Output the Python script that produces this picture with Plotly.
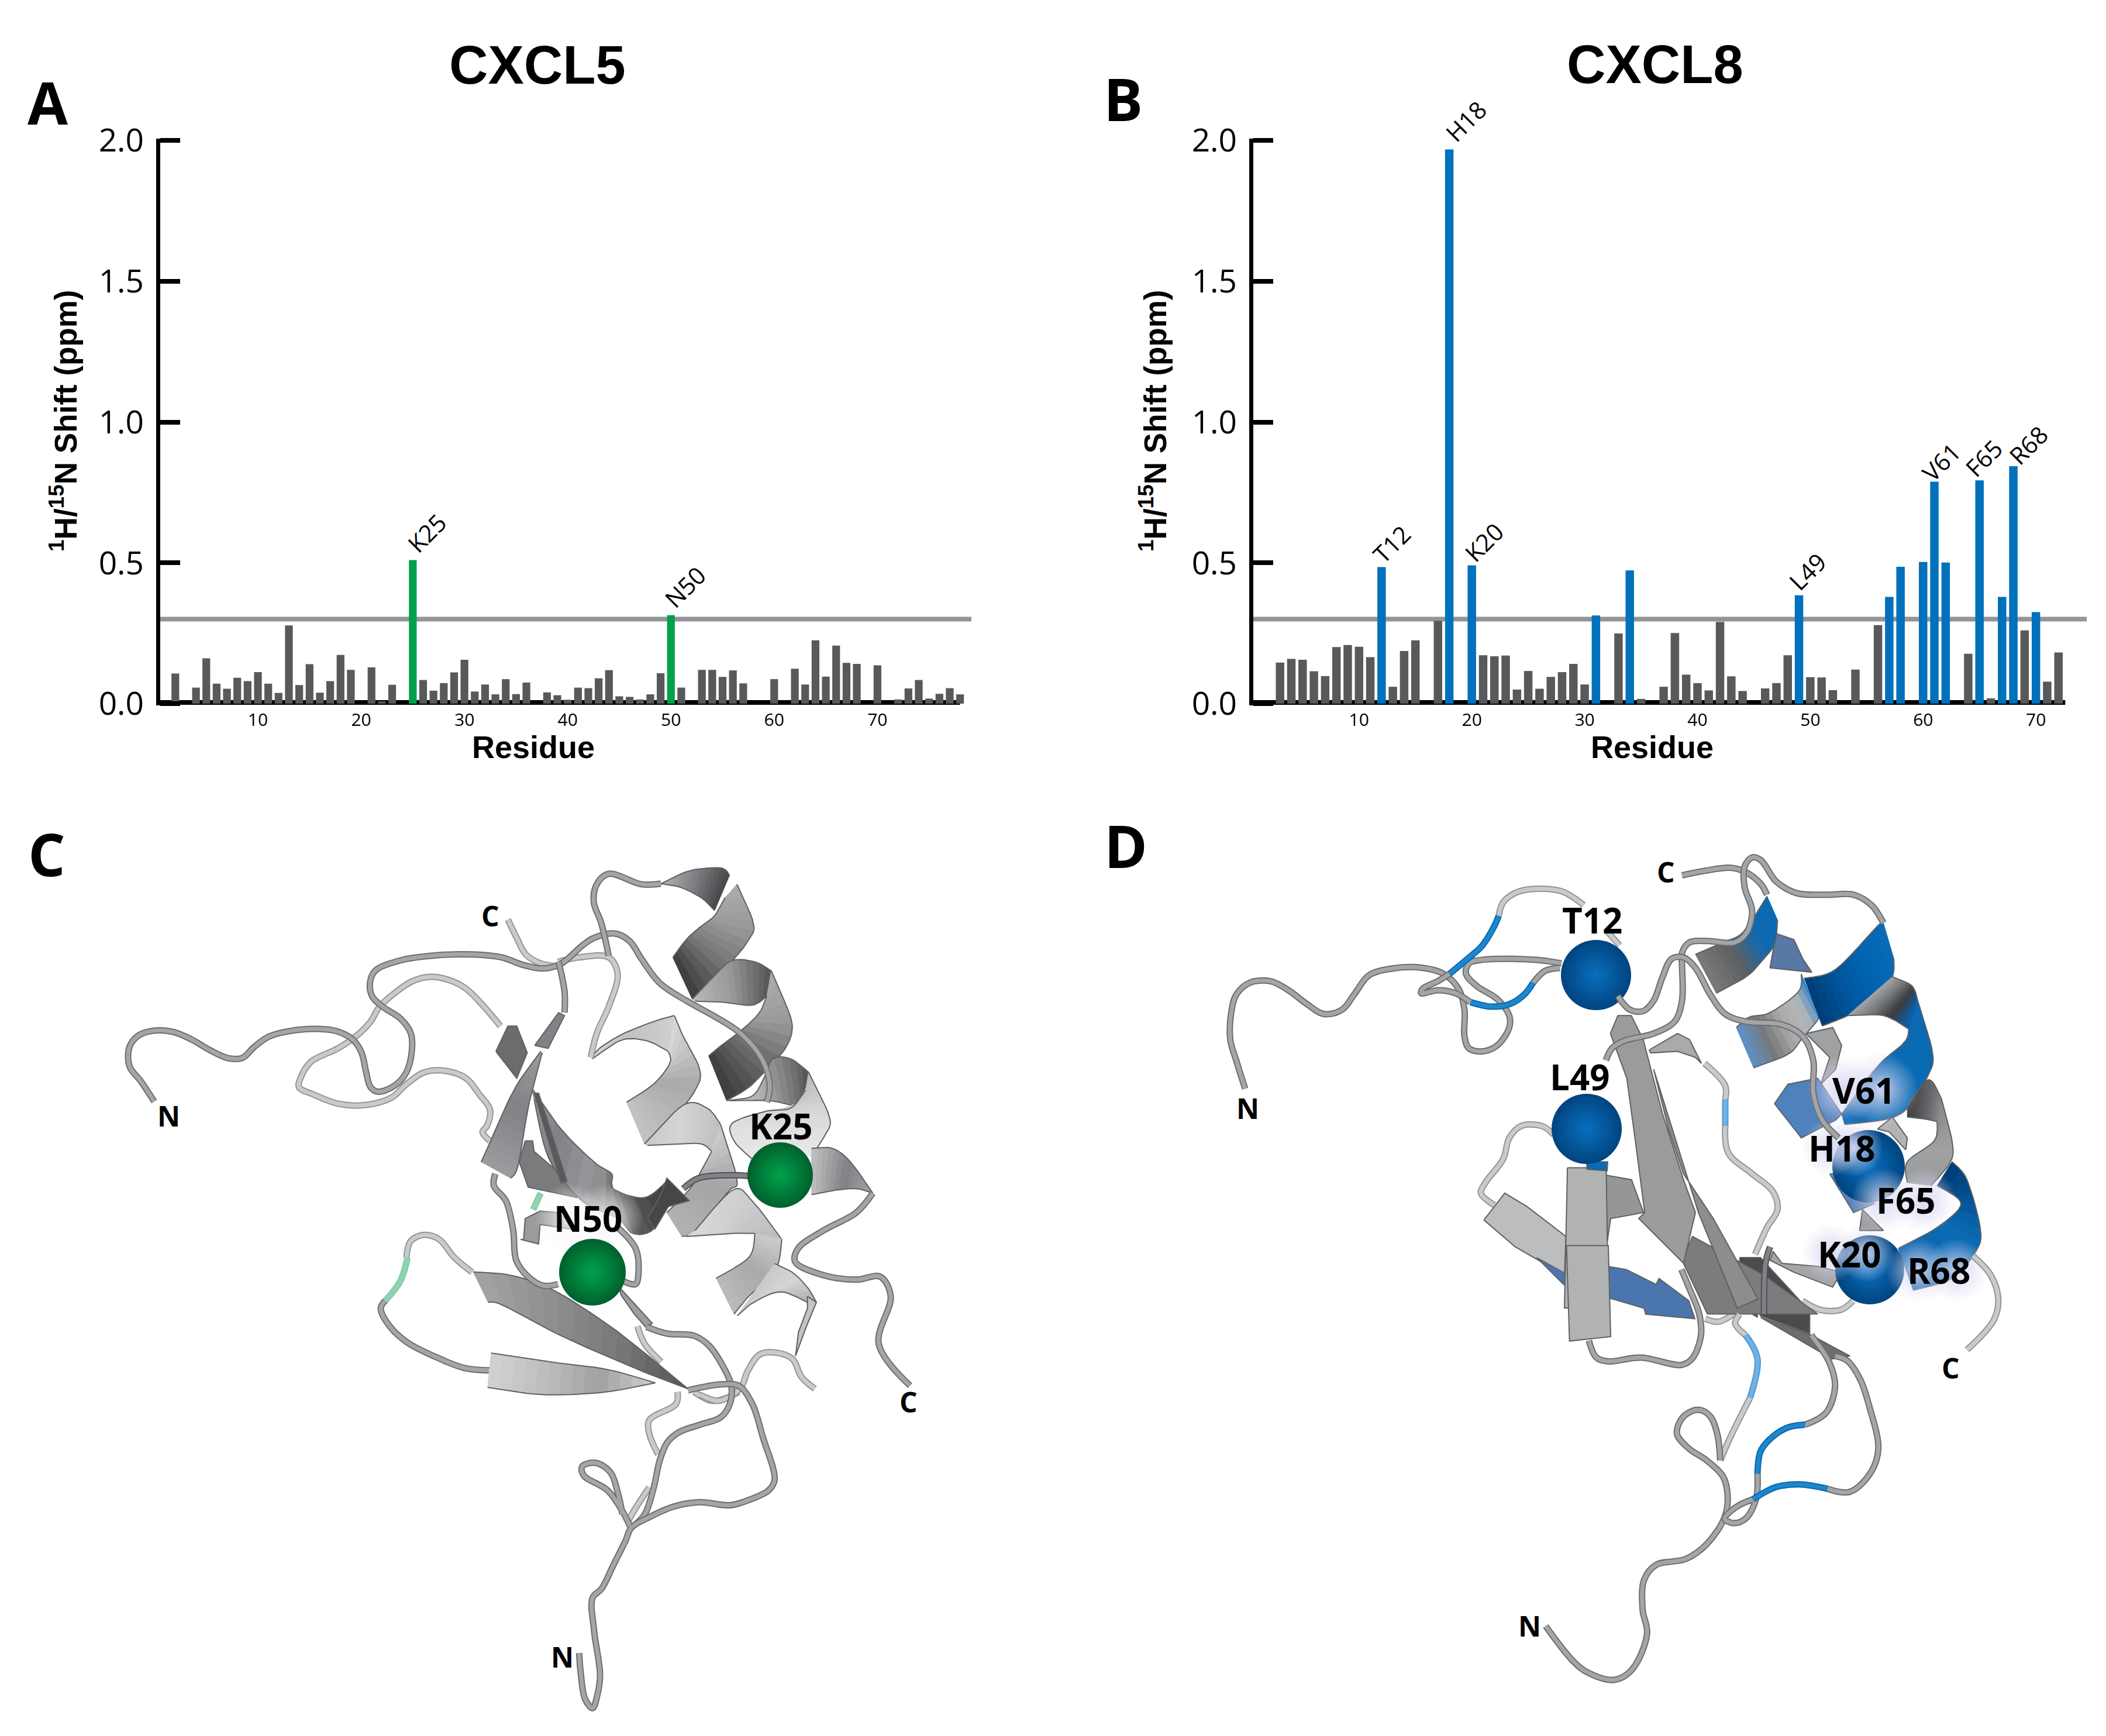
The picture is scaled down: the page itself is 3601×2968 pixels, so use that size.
import plotly.graph_objects as go

W, H = 3601, 2968

# chemical shift data
cxcl5_res = list(range(1, 79))
cxcl5_shift = [0, 0.107, 0, 0.057, 0.161, 0.071, 0.053, 0.092, 0.080, 0.112,
               0.071, 0.038, 0.278, 0.066, 0.140, 0.039, 0.080, 0.173, 0.120, 0,
               0.129, 0.008, 0.067, 0, 0.510, 0.084, 0.046, 0.073, 0.111, 0.156,
               0.043, 0.068, 0.033, 0.087, 0.034, 0.075, 0, 0.040, 0.030, 0.014,
               0.057, 0.055, 0.090, 0.119, 0.026, 0.024, 0.015, 0.033, 0.108, 0.314,
               0.057, 0, 0.120, 0.120, 0.095, 0.118, 0.072, 0, 0, 0.087,
               0, 0.124, 0.068, 0.225, 0.096, 0.206, 0.145, 0.141, 0, 0.136,
               0, 0.015, 0.054, 0.084, 0.018, 0.035, 0.055, 0.033]
cxcl5_labels = {25: "K25", 50: "N50"}

cxcl8_res = list(range(3, 73))
cxcl8_shift = [0.146, 0.159, 0.156, 0.115, 0.098, 0.201, 0.208, 0.202, 0.165, 0.485,
               0.060, 0.187, 0.225, 0, 0.294, 1.968, 0, 0.491, 0.172, 0.168,
               0.171, 0.050, 0.116, 0.053, 0.095, 0.112, 0.141, 0.068, 0.313, 0,
               0.249, 0.473, 0.017, 0, 0.060, 0.251, 0.103, 0.073, 0.047, 0.290,
               0.097, 0.045, 0, 0.054, 0.073, 0.172, 0.385, 0.094, 0.093, 0.048,
               0, 0.121, 0, 0.279, 0.379, 0.486, 0, 0.503, 0.788, 0.501,
               0, 0.177, 0.793, 0.019, 0.379, 0.843, 0.260, 0.325, 0.078, 0.182]
cxcl8_blue = [12, 18, 20, 31, 34, 49, 57, 58, 60, 61, 62, 65, 67, 68, 70]
cxcl8_labels = {12: "T12", 18: "H18", 20: "K20", 49: "L49", 61: "V61", 65: "F65", 68: "R68"}
label_shift = {"K25": (24, 46), "N50": (24, 49), "T12": (17, 39), "H18": (28, 48), "K20": (20, 40),
               "L49": (14, 41), "V61": (11, 34), "F65": (7, 38), "R68": (25, 36)}

threshold = 0.3
y_ticks = [0, 0.5, 1.0, 1.5, 2.0]
x_ticks = [10, 20, 30, 40, 50, 60, 70]

GRAY_BAR = "#58595b"
GREEN = "#00a14b"
BLUE = "#0071bc"

# ribbon drawings: (crop origin, points in the crop at 1.96x)
C6, C7, C8 = (200, 1420), (750, 1420), (600, 2150)
D9, D10, D11 = (2050, 1420), (2700, 1420), (2500, 2150)

TUBE = ("#6d6e71", "#a3a5a7")
TUBE_LIGHT = ("#939598", "#c9cacb")
TUBE_DARK = ("#4f5052", "#808285")
TUBE_GREEN = ("#7fcba4", "#8fd3b0")
TUBE_BLUE = ("#0a68ad", "#1c86cf")
TUBE_SKY = ("#4b97d4", "#71b2e4")

# helices and long strands: (crop, edge a, edge b, colours along the ribbon)
c_back_ribbons = [
    (C7, [(510, 760), (545, 725), (620, 680), (720, 640), (790, 620)], [(515, 765), (550, 740), (620, 700), (700, 705), (770, 740)], ["#d7d8d9", "#c0c1c2", "#cdced0"]),
    (C7, [(790, 620), (815, 680), (875, 800), (860, 870), (790, 960), (690, 1050)], [(770, 740), (775, 780), (720, 850), (630, 910)], ["#d5d6d7", "#a8a9ab", "#c0c1c2"]),
    (C7, [(690, 1050), (820, 920), (900, 930), (945, 985)], [(700, 1055), (800, 1050), (880, 1050), (915, 1075)], ["#c8c9ca", "#d4d5d6", "#c0c1c2"]),
    (C7, [(945, 985), (1000, 1170), (970, 1210), (860, 1340), (815, 1360)], [(915, 1075), (850, 1190), (765, 1280)], ["#c8c9ca", "#a3a4a6", "#b0b1b3"]),
    (C7, [(860, 1340), (985, 1205), (1050, 1240), (1150, 1370)], [(830, 1360), (980, 1350), (1060, 1350)], ["#d9d9da", "#cfd0d1", "#bdbebf"]),
    (C7, [(1150, 1370), (1130, 1470), (1040, 1560), (990, 1620)], [(1060, 1350), (1040, 1430), (930, 1500)], ["#c8c9ca", "#a8a9ab", "#b8b9ba"]),
    (C8, [(1295, 195), (1350, 150), (1440, 115), (1530, 150)], [(1420, 20), (1480, 50), (1530, 100), (1560, 150)], ["#c9cacb", "#d4d5d6", "#b0b1b3"]),
]
c_back_polys = [
    (C8, "#c3c4c5", [(1530, 130), (1560, 150), (1525, 235), (1490, 330), (1500, 250), (1530, 170)]),
]
c_back_tubes = [
    (C6, TUBE_LIGHT, [(1310, 298), (1340, 360), (1370, 415), (1420, 445), (1480, 455)]),
    (C6, TUBE_LIGHT, [(1285, 655), (1230, 590), (1170, 530), (1110, 500), (1050, 490), (990, 505), (930, 545), (880, 590), (850, 640), (800, 690), (740, 730), (650, 775), (615, 830), (610, 860), (660, 885), (740, 915), (830, 920), (920, 895), (970, 850), (1030, 810), (1100, 805), (1170, 830), (1215, 885), (1250, 935), (1240, 990), (1225, 1010), (1250, 1040)]),
    (C6, TUBE_GREEN, [(1420, 1215), (1395, 1270)]),
    (C7, TUBE_LIGHT, [(510, 760), (530, 680), (570, 590), (600, 480), (570, 425), (470, 425), (400, 440)]),
    (C8, TUBE_LIGHT, [(1095, 450), (1090, 490), (1000, 545), (1000, 590), (1030, 660)]),
    (C8, TUBE_LIGHT, [(1150, 450), (1210, 480), (1260, 470), (1300, 450)]),
    (C8, TUBE_LIGHT, [(960, 230), (985, 290), (1040, 350)]),
    (C8, TUBE_LIGHT, [(925, 890), (960, 830), (1000, 770)]),
    (C8, TUBE_LIGHT, [(1555, 440), (1510, 400), (1480, 340), (1420, 318), (1370, 325), (1330, 380), (1310, 430), (1280, 460), (1230, 480), (1170, 460)]),
    (C6, TUBE_LIGHT, [(1190, 1480), (1130, 1430), (1080, 1370), (1030, 1355), (985, 1375), (970, 1430)]),
    (C8, TUBE_GREEN, [(190, 0), (165, 80), (115, 145)]),
    (C8, TUBE, [(115, 145), (100, 170), (130, 230), (190, 285), (300, 340), (380, 370), (465, 378)]),
]
c_polys = [
    (C6, "#6b6c6e", [(1270, 740), (1310, 655), (1340, 655), (1375, 745), (1340, 830)]),
    (C6, "#808285", [(1400, 720), (1480, 610), (1500, 620), (1445, 730)]),
    (C7, "#7a7b7d", [(290, 1040), (315, 1040), (320, 1075), (430, 1170), (465, 1230), (300, 1195), (270, 1110)]),
]
c_ribbons = [
    (C7, [(310, 860), (410, 1000), (520, 1110), (580, 1150), (585, 1200), (690, 1230), (770, 1170)], [(320, 900), (370, 1100), (480, 1240), (600, 1300), (650, 1350), (715, 1340), (770, 1260), (840, 1240)], ["#909193", "#808285", "#98999b", "#58595b", "#3b3c3e"]),
    (C6, [(1425, 745), (1380, 920), (1345, 1120), (1320, 1165)], [(1420, 740), (1330, 870), (1235, 1080), (1220, 1110)], ["#98999b", "#808285", "#9a9b9d"]),
    (C8, [(410, 48), (540, 60), (680, 110), (840, 210), (960, 300), (1130, 440)], [(460, 150), (510, 160), (700, 260), (950, 370), (1130, 440)], ["#a0a1a3", "#8c8d8f", "#77787a", "#58595b"]),
    (C8, [(470, 320), (670, 350), (860, 375), (1020, 420)], [(458, 435), (590, 455), (700, 460), (860, 450), (1020, 420)], ["#cfd0d1", "#bcbdbe", "#a0a1a3", "#c9cacb"]),
    # front helix
    (C7, [(745, 178), (840, 135), (945, 125), (975, 150)], [(745, 178), (810, 190), (880, 225), (925, 268)], ["#b0b1b3", "#808285", "#4a4b4d"]),
    (C7, [(1000, 180), (1055, 310), (1040, 365), (985, 435), (920, 490), (850, 565)], [(960, 225), (925, 285), (880, 320), (830, 365), (785, 425)], ["#a8a9ab", "#98999b", "#77787a", "#3f4042"]),
    (C7, [(850, 565), (930, 480), (985, 435), (1060, 440), (1115, 470)], [(860, 572), (950, 575), (1050, 585), (1100, 555)], ["#b5b6b8", "#9a9b9d", "#58595b"]),
    (C7, [(1115, 470), (1150, 550), (1185, 650), (1165, 725), (1110, 790), (1040, 860), (965, 905)], [(1100, 555), (1075, 610), (1020, 665), (960, 710), (905, 755)], ["#a8a9ab", "#98999b", "#6a6b6d", "#3f4042"]),
    (C7, [(965, 905), (1050, 890), (1090, 830), (1120, 765), (1180, 765), (1240, 810)], [(975, 905), (1110, 905), (1200, 920), (1230, 870)], ["#d0d1d2", "#a0a1a3", "#58595b"]),
    (C7, [(1240, 810), (1310, 960), (1295, 1020), (1250, 1090)], [(1230, 870), (1180, 930), (1100, 940), (985, 980), (990, 1040), (1050, 1100)], ["#bcbdbf", "#d8d9da", "#e8e8e9"]),
    (C7, [(1250, 1065), (1320, 1065), (1380, 1110), (1455, 1215)], [(1250, 1220), (1330, 1205), (1400, 1200), (1455, 1215)], ["#bbbcbd", "#808285", "#a0a1a3"]),
]
c_front_polys = [
    (C7, "#58595b", [(320, 880), (335, 880), (430, 1175), (410, 1180)]),
    (C7, "#454648", [(740, 1230), (765, 1165), (840, 1240), (770, 1260), (725, 1335), (700, 1300)]),
    (C7, "#9a9b9d", [(285, 1370), (290, 1300), (340, 1275), (400, 1280), (470, 1340), (340, 1320), (335, 1385), (275, 1370)]),
    (C8, "#9c9d9f", [(900, 100), (1010, 220), (990, 235), (950, 190), (905, 125)]),
]
c_tubes = [
    (C6, TUBE, [(125, 908), (80, 840), (42, 790), (42, 725), (75, 685), (130, 670), (190, 675), (250, 700), (310, 735), (370, 762), (420, 762), (460, 725), (510, 690), (590, 670), (680, 665), (735, 672), (790, 700), (820, 745), (835, 810), (850, 860), (875, 875), (930, 855), (970, 810), (988, 740), (985, 680), (950, 630), (890, 590), (855, 555), (848, 510), (865, 470), (950, 435), (1070, 418), (1190, 415), (1290, 425), (1360, 450), (1430, 462), (1490, 445), (1560, 385), (1598, 360), (1668, 345), (1718, 370), (1758, 430), (1818, 510), (1908, 570), (1998, 620), (2078, 670), (2138, 730), (2173, 790), (2188, 860), (2178, 910)]),
    (C6, TUBE, [(1480, 440), (1500, 540), (1500, 610)]),
    (C7, TUBE, [(570, 420), (545, 310), (520, 240), (530, 180), (570, 145), (680, 180), (745, 178)]),
    (C7, TUBE_DARK, [(820, 1200), (870, 1165), (1000, 1155), (1060, 1160)]),
    (C7, TUBE, [(190, 1150), (185, 1190), (225, 1240), (250, 1340), (260, 1440), (300, 1495), (350, 1525), (400, 1520)]),
    (C7, TUBE, [(600, 1330), (660, 1400), (670, 1480), (660, 1520), (620, 1510)]),
    (C7, TUBE, [(1455, 1215), (1400, 1280), (1290, 1340), (1205, 1400), (1195, 1445), (1290, 1490), (1400, 1505), (1480, 1495), (1515, 1560), (1475, 1720), (1580, 1860)]),
    (C8, TUBE, [(990, 232), (1060, 255), (1150, 262), (1200, 295), (1250, 370), (1275, 430), (1270, 490), (1240, 535), (1170, 560), (1100, 585), (1060, 620), (1035, 680), (1015, 770), (985, 860), (940, 905)]),
    (C8, TUBE, [(1130, 445), (1240, 425), (1300, 430), (1345, 490), (1380, 600), (1420, 745), (1400, 780), (1340, 810), (1270, 830), (1170, 820), (1080, 835), (1000, 870), (940, 905), (920, 950), (880, 1030), (840, 1110), (810, 1140), (815, 1250), (835, 1400), (825, 1470), (810, 1510), (785, 1480), (770, 1390), (765, 1325)]),
    (C8, TUBE, [(935, 900), (910, 850), (860, 780), (780, 730), (775, 700), (820, 688), (870, 720), (895, 790), (910, 860)]),
]
c_spheres = [(1334, 2009, 112), (1013, 2175, 114)]
c_glows = [(975, 2083, 120), (1040, 2083, 120)]

d_back_polys = [
    (D10, "#5878a5", [(660, 345), (720, 365), (750, 430), (780, 475), (640, 460)]),
    (D10, "#a0a1a3", [(760, 680), (850, 660), (880, 720), (860, 800), (810, 850), (840, 760)]),
    (D10, "#4f81bd", [(655, 915), (700, 850), (800, 830), (880, 950), (860, 970), (745, 1030)]),
    (D10, "#b2b3b5", [(1000, 1000), (1050, 960), (1100, 1030), (1095, 1070), (1040, 1010)]),
    (D10, "#5f86b8", [(840, 1150), (920, 1280), (990, 1250), (900, 1150)]),
    (D10, "#9a9b9d", [(940, 1340), (950, 1270), (1020, 1340)]),
]
d_back_tubes = [
    (D10, TUBE_LIGHT, [(420, 780), (490, 855), (490, 900)]),
    (D10, TUBE_SKY, [(490, 900), (490, 990)]),
    (D10, TUBE_LIGHT, [(490, 990), (500, 1080), (580, 1150), (650, 1210), (665, 1270), (630, 1330), (590, 1420)]),
    (D9, TUBE_LIGHT, [(1190, 1020), (1150, 990), (1080, 990), (1040, 1030), (1020, 1100), (960, 1180), (945, 1215), (990, 1255)]),
    (D9, TUBE_LIGHT, [(1370, 340), (1410, 385)]),
    (D11, TUBE_LIGHT, [(815, 205), (860, 215), (935, 170)]),
    (D11, TUBE_LIGHT, [(1140, 145), (1200, 175), (1270, 175), (1310, 145)]),
]
d_polys = [
    (D9, "#bcbdbe", [(955, 1305), (1025, 1215), (1100, 1260), (1230, 1360), (1225, 1490), (1060, 1395)]),
    (D9, "#959698", [(1365, 1155), (1450, 1170), (1490, 1280), (1380, 1300), (1365, 1400)]),
    (D11, "#4a76ad", [(250, 0), (340, 50), (490, 30), (550, 40), (650, 90), (660, 70), (760, 145), (780, 205), (615, 190), (610, 170), (490, 135), (340, 90)]),
    (D11, "#58595b", [(740, 0), (870, 0), (980, 130), (990, 200), (880, 135), (750, 30)]),
    (D11, "#4a4b4d", [(930, 0), (1000, 0), (1165, 180), (1165, 255), (1000, 195), (935, 60)]),
    (D11, "#6d6e70", [(1000, 200), (1170, 260), (1300, 330), (1240, 340)]),
    (D10, "#7b7c7e", [(345, 1440), (380, 1360), (620, 1490), (800, 1620), (430, 1620)]),
    (D10, "#8c8d8f", [(250, 800), (300, 1000), (350, 1150), (450, 1300), (600, 1570), (530, 1600), (400, 1280)]),
    (D10, "#9a9b9d", [(105, 680), (130, 620), (175, 620), (215, 700), (280, 950), (350, 1170), (390, 1280), (350, 1450), (200, 1300), (220, 1280), (190, 1050), (160, 830)]),
    (D10, "#a9aaac", [(235, 735), (330, 680), (370, 700), (410, 780), (390, 760), (330, 740), (240, 745)]),
    (D9, "#b1b3b3", [(1235, 1130), (1365, 1130), (1372, 1600), (1225, 1600)]),
    (D11, "#b1b3b3", [(350, -40), (490, -40), (498, 265), (360, 280)]),
    (D9, "#0a6ab4", [(1300, 1110), (1370, 1110), (1368, 1140), (1300, 1135)]),
    (D10, "#a3a5a7", [(650, 1410), (680, 1450), (800, 1460), (880, 1480), (850, 1530), (720, 1480), (640, 1440)]),
]
d_ribbons = [
    (D10, [(390, 415), (480, 375), (550, 340), (630, 220)], [(460, 545), (560, 490), (610, 440), (655, 380), (665, 300)], ["#77787a", "#5f6062", "#1069b0", "#0a6ab4"]),
    (D10, [(527, 660), (570, 625), (640, 610), (735, 540), (745, 480)], [(585, 795), (700, 750), (745, 700), (805, 625), (790, 590)], ["#5f8fc0", "#77787a", "#a9aaac", "#b5b6b7", "#2d7fc5"]),
    (D10, [(755, 495), (860, 465), (1000, 320), (1020, 310)], [(815, 655), (900, 620), (1000, 560), (1050, 490), (1055, 430)], ["#003f7a", "#0057a0", "#0065b3", "#0a6ab4"]),
    (D10, [(1050, 490), (1115, 520), (1135, 570)], [(900, 620), (1020, 620), (1105, 665)], ["#a0a1a3", "#77787a", "#3b3c3e", "#0a5ea5"]),
    (D10, [(1135, 570), (1185, 745), (1170, 820), (1110, 920), (1040, 965), (890, 985)], [(1105, 665), (1090, 710), (1000, 790), (880, 950)], ["#0a6ab4", "#0a6ab4", "#0062ad"]),
    (D10, [(1100, 925), (1170, 835), (1215, 900)], [(1100, 960), (1150, 965), (1200, 975)], ["#3f4042", "#58595b", "#808285"]),
    (D10, [(1215, 900), (1250, 1040), (1245, 1110), (1180, 1190)], [(1200, 975), (1190, 1040), (1100, 1110), (1100, 1180)], ["#8a8b8d", "#a0a1a3", "#9a9b9d"]),
    (D10, [(1250, 1110), (1300, 1170), (1345, 1335), (1330, 1410), (1250, 1500), (1120, 1540)], [(1200, 1190), (1280, 1250), (1200, 1330), (1070, 1400)], ["#003f7a", "#0a6ab4", "#0a66b0"]),
]
d_tubes = [
    (D9, TUBE, [(155, 865), (125, 770), (105, 700), (110, 600), (125, 550), (170, 510), (240, 505), (300, 535), (360, 580), (420, 615), (480, 600), (520, 550), (570, 485), (650, 462), (750, 460), (820, 480), (870, 530), (890, 600), (890, 690), (905, 730), (950, 740), (1000, 720), (1040, 660), (1040, 620), (1000, 565), (930, 520), (895, 480), (905, 445), (960, 432), (1060, 430), (1150, 435), (1215, 445)]),
    (D9, TUBE, [(1210, 460), (1160, 470), (1120, 510)]),
    (D9, TUBE_BLUE, [(1120, 510), (1090, 550), (1040, 582), (980, 590), (910, 575)]),
    (D9, TUBE, [(910, 575), (860, 545), (800, 535), (745, 545), (750, 530), (800, 505), (840, 480)]),
    (D9, TUBE_BLUE, [(840, 480), (900, 430), (950, 385), (990, 320), (1005, 285)]),
    (D9, TUBE_LIGHT, [(1005, 285), (1020, 240), (1070, 205), (1150, 195), (1220, 205), (1290, 250)]),
    (D10, TUBE, [(345, 150), (420, 135), (510, 125), (560, 140), (610, 180), (630, 215)]),
    (D10, TUBE, [(90, 770), (110, 730), (150, 705), (250, 680), (320, 640), (345, 570), (345, 450), (345, 410), (370, 375), (430, 370), (520, 375), (560, 345), (580, 270), (555, 190), (555, 120), (580, 90), (610, 100), (660, 170), (730, 210), (830, 215), (920, 215), (980, 250), (1020, 310)]),
    (D10, TUBE, [(130, 555), (170, 600), (215, 605), (250, 570), (280, 490), (310, 430), (350, 425), (390, 460), (440, 550), (490, 615), (560, 640), (680, 650), (750, 690), (785, 770), (785, 880), (815, 970), (870, 1030)]),
    (D10, TUBE_DARK, [(640, 1395), (625, 1450), (620, 1620)]),
    (D10, TUBE_LIGHT, [(1320, 1425), (1380, 1490), (1405, 1570), (1390, 1640), (1300, 1740)]),
    (D11, TUBE, [(425, 278), (450, 335), (490, 348), (600, 335), (735, 360), (770, 340), (800, 265), (795, 190), (760, 100), (735, 40)]),
    (D11, TUBE_LIGHT, [(930, 190), (915, 220), (950, 260)]),
    (D11, TUBE_SKY, [(950, 260), (990, 340), (965, 470)]),
    (D11, TUBE_LIGHT, [(965, 470), (900, 600), (865, 680)]),
    (D11, TUBE, [(865, 680), (855, 590), (830, 530), (790, 510), (740, 535), (720, 590), (760, 640), (820, 680), (875, 735), (890, 800), (880, 870), (820, 960), (750, 1010), (650, 1030), (610, 1080), (605, 1180), (620, 1260), (570, 1380), (510, 1415), (420, 1390), (370, 1350), (280, 1235)]),
    (D11, TUBE, [(1170, 260), (1230, 350), (1250, 430), (1220, 520), (1150, 560)]),
    (D11, TUBE_BLUE, [(1150, 560), (1090, 570), (1030, 610), (1000, 650), (990, 725)]),
    (D11, TUBE, [(990, 725), (985, 810), (950, 875), (910, 890), (880, 875), (920, 835), (975, 810)]),
    (D11, TUBE_BLUE, [(975, 810), (1050, 770), (1130, 760), (1225, 775)]),
    (D11, TUBE, [(1225, 775), (1300, 785), (1370, 720), (1395, 640), (1365, 500), (1335, 410), (1290, 345), (1250, 330)]),
]
d_spheres = [(2729, 1667, 120), (2713, 1930, 120), (3195, 1994, 124), (3197, 2171, 118)]
d_glows = [(3150, 1864, 120), (3215, 1864, 130), (3130, 1962, 100), (3170, 1962, 100), (3220, 2052, 110), (3290, 2052, 110),
           (3130, 2142, 100), (3190, 2142, 100), (3280, 2172, 110), (3345, 2172, 110)]

res_labels = [("K25", 1335, 1925), ("N50", 1005, 2083), ("T12", 2722, 1573), ("L49", 2701, 1841),
              ("V61", 3187, 1864), ("H18", 3149, 1963), ("F65", 3259, 2052), ("K20", 3162, 2144), ("R68", 3315, 2172)]
end_labels = [("C", 838, 1565), ("N", 288, 1907), ("C", 1553, 2396), ("N", 961, 2832),
              ("N", 2133, 1894), ("C", 2848, 1490), ("C", 3335, 2338), ("N", 2615, 2779)]
panel_letters = [("A", 81, 174), ("B", 1920, 168), ("C", 80, 1459), ("D", 1925, 1445)]
titles = [("CXCL5", 919, 111), ("CXCL8", 2830, 110)]


def page(crop, pts):
    xs = [crop[0] + p[0] / 1.96 for p in pts]
    ys = [crop[1] + p[1] / 1.96 for p in pts]
    return xs, ys


def dense(pts, steps=8):
    # catmull-rom through the traced edge, so the ribbon edges stay round
    out = []
    p = [pts[0]] + list(pts) + [pts[-1]]
    for i in range(1, len(p) - 2):
        for s in range(steps):
            t = s / steps
            out.append(tuple(0.5 * (2 * p[i][k] + (p[i + 1][k] - p[i - 1][k]) * t
                                    + (2 * p[i - 1][k] - 5 * p[i][k] + 4 * p[i + 1][k] - p[i + 2][k]) * t * t
                                    + (3 * p[i][k] - p[i - 1][k] - 3 * p[i + 1][k] + p[i + 2][k]) * t ** 3) for k in (0, 1)))
    out.append(tuple(pts[-1]))
    return out


def split_edge(pts, n):
    # cut an edge into n parts of even length, keeping the points between the cuts
    lens = [0]
    for a, b in zip(pts, pts[1:]):
        lens.append(lens[-1] + ((a[0] - b[0]) ** 2 + (a[1] - b[1]) ** 2) ** 0.5)
    parts, j = [], 0
    cuts = []
    for i in range(n + 1):
        d = lens[-1] * i / n
        while j < len(lens) - 2 and lens[j + 1] < d:
            j += 1
        f = (d - lens[j]) / max(lens[j + 1] - lens[j], 1e-6)
        cuts.append((j, (pts[j][0] + (pts[j + 1][0] - pts[j][0]) * f, pts[j][1] + (pts[j + 1][1] - pts[j][1]) * f)))
    for (j0, c0), (j1, c1) in zip(cuts, cuts[1:]):
        parts.append([c0] + list(pts[j0 + 1:j1 + 1]) + [c1])
    return parts


def mix(stops, t):
    t = t * (len(stops) - 1)
    i = min(int(t), len(stops) - 2)
    f = t - i
    c0 = [int(stops[i][k:k + 2], 16) for k in (1, 3, 5)]
    c1 = [int(stops[i + 1][k:k + 2], 16) for k in (1, 3, 5)]
    return "rgb(%d,%d,%d)" % tuple(round(a + (b - a) * f) for a, b in zip(c0, c1))


fig = go.Figure()


def add_bars(res, shift, colors, ax):
    fig.add_trace(go.Bar(x=res, y=shift, width=0.75, marker=dict(color=colors, line_width=0),
                         xaxis="x" + ax, yaxis="y" + ax, showlegend=False))


add_bars(cxcl5_res, cxcl5_shift, [GREEN if r in cxcl5_labels else GRAY_BAR for r in cxcl5_res], "")
add_bars(cxcl8_res, cxcl8_shift, [BLUE if r in cxcl8_blue else GRAY_BAR for r in cxcl8_res], "2")


def add_poly(crop, color, pts):
    xs, ys = page(crop, pts + pts[:1])
    fig.add_trace(go.Scatter(x=xs, y=ys, mode="lines", fill="toself", fillcolor=color,
                             line=dict(color="#5f6062", width=2), xaxis="x3", yaxis="y3", showlegend=False))


def add_ribbon(crop, a, b, stops, n=14):
    ea, eb = dense(a), dense(b)
    for i, (pa, pb) in enumerate(zip(split_edge(ea, n), split_edge(eb, n))):
        col = mix(stops, i / (n - 1))
        xs, ys = page(crop, pa + pb[::-1] + pa[:1])
        fig.add_trace(go.Scatter(x=xs, y=ys, mode="lines", fill="toself", fillcolor=col,
                                 line=dict(color=col, width=1), xaxis="x3", yaxis="y3", showlegend=False))
    for edge in (ea, eb):
        xs, ys = page(crop, edge)
        fig.add_trace(go.Scatter(x=xs, y=ys, mode="lines", line=dict(color="#5f6062", width=2),
                                 xaxis="x3", yaxis="y3", showlegend=False))


def add_tube(crop, colors, pts):
    xs, ys = page(crop, pts)
    for col, wid in zip(colors, (11, 7)):
        fig.add_trace(go.Scatter(x=xs, y=ys, mode="lines", line=dict(color=col, width=wid, shape="spline"),
                                 xaxis="x3", yaxis="y3", showlegend=False))


def add_spheres(spheres, edge, center):
    fig.add_trace(go.Scatter(x=[s[0] for s in spheres], y=[s[1] for s in spheres], mode="markers",
                             marker=dict(size=[s[2] for s in spheres], color=edge, line_width=0, opacity=1,
                                         gradient=dict(type="radial", color=center)),
                             xaxis="x3", yaxis="y3", showlegend=False))


for crop, a, b, stops in c_back_ribbons:
    add_ribbon(crop, a, b, stops)
for crop, col, pts in c_back_polys:
    add_poly(crop, col, pts)
for crop, col, pts in c_back_tubes:
    add_tube(crop, col, pts)
for crop, col, pts in c_polys:
    add_poly(crop, col, pts)
for crop, a, b, stops in c_ribbons:
    add_ribbon(crop, a, b, stops)
for crop, col, pts in c_front_polys:
    add_poly(crop, col, pts)
add_spheres(c_glows, "rgba(245,245,245,0)", "rgba(245,245,245,0.9)")
for crop, col, pts in c_tubes:
    add_tube(crop, col, pts)
add_spheres(c_spheres, "#00602c", "#00a34c")

for crop, col, pts in d_back_polys:
    add_poly(crop, col, pts)
for crop, col, pts in d_back_tubes:
    add_tube(crop, col, pts)
for crop, col, pts in d_polys:
    add_poly(crop, col, pts)
for crop, a, b, stops in d_ribbons:
    add_ribbon(crop, a, b, stops)
add_spheres(d_spheres, "#00447f", "#0a6fbe")
add_spheres(d_glows, "rgba(215,215,240,0)", "rgba(215,215,240,0.95)")
for crop, col, pts in d_tubes:
    add_tube(crop, col, pts)

notes = []


def page_text(text, x, y, family, size, **kw):
    notes.append(dict(text=text, x=x, y=y, xref="x3", yref="y3", showarrow=False, xanchor="center", yanchor="middle",
                      font=dict(family=family, size=size, color="black"), **kw))


for text, x, y in titles:
    page_text("<b>%s</b>" % text, x, y, "Liberation Sans", 92)
for text, x, y in panel_letters:
    page_text("<b>%s</b>" % text, x, y, "Open Sans", 100)
for text, x, y in res_labels:
    page_text("<b>%s</b>" % text, x, y, "Open Sans", 60)
for text, x, y in end_labels:
    page_text("<b>%s</b>" % text, x, y, "Open Sans", 48)
for x in (912, 2825):
    page_text("<b>Residue</b>", x, 1277, "Liberation Sans", 54)
for x in (108, 1971):
    page_text("<b><sup>1</sup>H/<sup>15</sup>N Shift (ppm)</b>", x, 719, "Liberation Sans", 53, textangle=-90)

for labels, res, shift, ax in [(cxcl5_labels, cxcl5_res, cxcl5_shift, ""), (cxcl8_labels, cxcl8_res, cxcl8_shift, "2")]:
    for r, text in labels.items():
        dx, dy = label_shift[text]
        notes.append(dict(text=text, x=r, y=shift[res.index(r)], xref="x" + ax, yref="y" + ax, showarrow=False,
                          textangle=-45, xshift=dx, yshift=dy, xanchor="center", yanchor="middle",
                          font=dict(family="Open Sans", size=41, color="black")))

ax_x = dict(showgrid=False, zeroline=False, showline=False, ticks="", tickmode="array", tickvals=x_ticks,
            tickfont=dict(family="Open Sans", size=30, color="black"), ticklabelstandoff=4)
ax_y = dict(range=[-0.006, 2.006], showgrid=False, zeroline=False, showline=True, linecolor="black", linewidth=7,
            ticks="inside", ticklen=34, tickwidth=8, tickcolor="black", tickmode="array", tickvals=y_ticks,
            tickformat=".1f", tickfont=dict(family="Open Sans", size=55, color="black"), ticklabelstandoff=10)
y_dom = [1 - 1205.9 / H, 1 - 237.1 / H]

fig.update_layout(
    width=W, height=H, margin=dict(l=0, r=0, t=0, b=0, autoexpand=False), paper_bgcolor="white", plot_bgcolor="rgba(0,0,0,0)",
    showlegend=False,
    xaxis=dict(ax_x, domain=[274 / W, 1661 / W], range=[0.54, 79.1], anchor="y"),
    yaxis=dict(ax_y, domain=y_dom, anchor="x"),
    xaxis2=dict(ax_x, domain=[2143 / W, 3568 / W], range=[0.63, 74.5], anchor="y2"),
    yaxis2=dict(ax_y, domain=y_dom, anchor="x2"),
    xaxis3=dict(domain=[0, 1], range=[0, W], visible=False, anchor="y3"),
    yaxis3=dict(domain=[0, 1], range=[H, 0], visible=False, anchor="x3"),
    annotations=notes,
    shapes=[
        dict(type="line", xref="x", yref="y", x0=0.54, x1=79.1, y0=threshold, y1=threshold, layer="below", line=dict(color="#939598", width=8)),
        dict(type="line", xref="x2", yref="y2", x0=0.63, x1=74.5, y0=threshold, y1=threshold, layer="below", line=dict(color="#939598", width=8)),
        dict(type="line", xref="x", yref="y", x0=0.54, x1=78, y0=0.004, y1=0.004, layer="below", line=dict(color="black", width=8)),
        dict(type="line", xref="x2", yref="y2", x0=0.63, x1=72.6, y0=0.004, y1=0.004, layer="below", line=dict(color="black", width=8)),
    ],
)

fig.write_html("out.html", config={"displayModeBar": False}, post_script="document.body.style.margin='0';")
